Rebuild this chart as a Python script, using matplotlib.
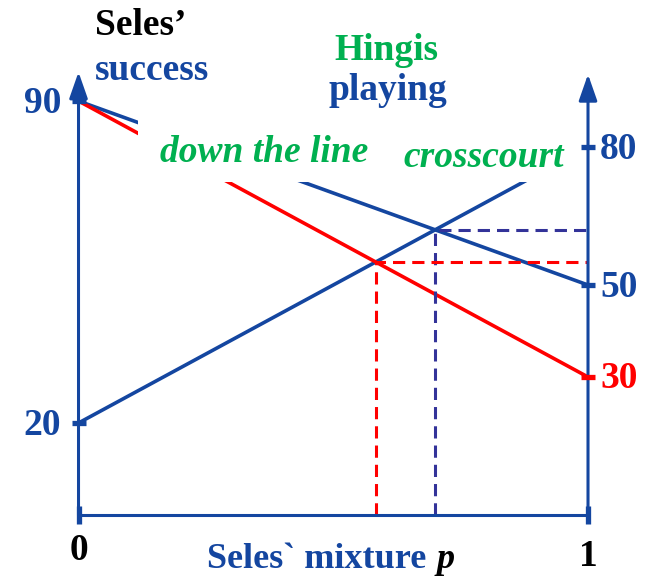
import numpy as np
import matplotlib
matplotlib.use("Agg")
import matplotlib.pyplot as plt
from matplotlib.patches import Rectangle

plt.rcParams['font.family'] = ['Liberation Serif', 'DejaVu Serif']
plt.rcParams['font.weight'] = 'bold'

# Seles' success at p = 0 and p = 1 for each of Hingis' shots
p_ends = [0, 1]
down_line = [90, 50]
crosscourt = [20, 80]
down_line_new = [90, 30]

left_ticks = [90, 20]
right_ticks = [80, 50, 30]
right_tick_colors = ['#1446a0', '#1446a0', '#ff0000']

BLUE = '#1446a0'
RED = '#ff0000'
GREEN = '#00b050'
DASH_BLUE = '#333399'


def crossing(a, b):
    # where two straight lines over p in [0, 1] meet
    da = a[1] - a[0]
    db = b[1] - b[0]
    p = (b[0] - a[0]) / (da - db)
    return p, a[0] + da * p


fig = plt.figure(figsize=(6.52, 5.77), dpi=100)
ax = fig.add_axes([0, 0, 1, 1])
ax.set_xlim(-0.1541, 1.1256)
ax.set_ylim(-13.48, 111.96)
ax.axis('off')

# strategy lines
ax.plot(p_ends, down_line, color=BLUE, lw=2.6, solid_capstyle='butt', zorder=2)
ax.plot(p_ends, crosscourt, color=BLUE, lw=2.6, solid_capstyle='butt', zorder=2)
ax.plot(p_ends, down_line_new, color=RED, lw=2.6, solid_capstyle='butt', zorder=2)

# equilibrium guides
dash = (0, (4, 2.3))
p1, v1 = crossing(down_line, crosscourt)
p2, v2 = crossing(down_line_new, crosscourt)
ax.plot([p1, p1, 1], [0, v1, v1], color=DASH_BLUE, lw=2.2, ls=dash, zorder=2)
ax.plot([p2, p2, 1], [0, v2, v2], color=RED, lw=2.2, ls=dash, zorder=2)

# white band behind the shot labels
ax.add_patch(Rectangle((0.117, 72.4), 0.88, 13.8, facecolor='white',
                       edgecolor='none', zorder=3))

# axes with arrow heads
arrow = dict(arrowstyle='-|>,head_width=0.35,head_length=1.0', color=BLUE,
             lw=2.2, shrinkA=0, shrinkB=0, mutation_scale=16)
ax.annotate('', xy=(0, 96.3), xytext=(0, 0), arrowprops=arrow, zorder=4)
ax.annotate('', xy=(1, 95.8), xytext=(1, 0), arrowprops=arrow, zorder=4)
ax.plot([0, 1], [0, 0], color=BLUE, lw=2.2, zorder=4)
ax.plot(p_ends, [0, 0], ls='none', marker='|', ms=13, mew=3.8, color=BLUE, zorder=4)

# tick marks and labels
fs = 27
for v in left_ticks:
    ax.plot(0, v, marker='_', ms=10, mew=3.8, color=BLUE, zorder=4)
    ax.text(-0.034, v - 2.7, str(v), color=BLUE, fontsize=fs,
            ha='right', va='baseline')
for v, c in zip(right_ticks, right_tick_colors):
    ax.plot(1, v, marker='_', ms=10, mew=3.8, color=c, zorder=4)
    ax.text(1.024, v - 2.5, str(v), color=c, fontsize=fs,
            ha='left', va='baseline')

ax.text(0, -9.8, '0', color='black', fontsize=fs, ha='center', va='baseline')
ax.text(1, -11.0, '1', color='black', fontsize=fs, ha='center', va='baseline')

# titles and labels
ax.text(0.032, 104.3, 'Seles\u2019', color='black', fontsize=fs, va='baseline')
ax.text(0.032, 94.6, 'success', color=BLUE, fontsize=fs, va='baseline')
ax.text(0.503, 98.9, 'Hingis', color=GREEN, fontsize=fs, va='baseline')
ax.text(0.490, 90.2, 'playing', color=BLUE, fontsize=fs, va='baseline')
ax.text(0.160, 76.7, 'down the line', color=GREEN, fontsize=fs,
        style='italic', va='baseline', zorder=5)
ax.text(0.637, 75.7, 'crosscourt', color=GREEN, fontsize=fs,
        style='italic', va='baseline', zorder=5)
ax.text(0.252, -11.5, 'Seles` mixture', color=BLUE, fontsize=26, va='baseline')
ax.text(0.703, -11.5, 'p', color='black', fontsize=26, style='italic',
        va='baseline')

fig.savefig('out.png', dpi=100)
